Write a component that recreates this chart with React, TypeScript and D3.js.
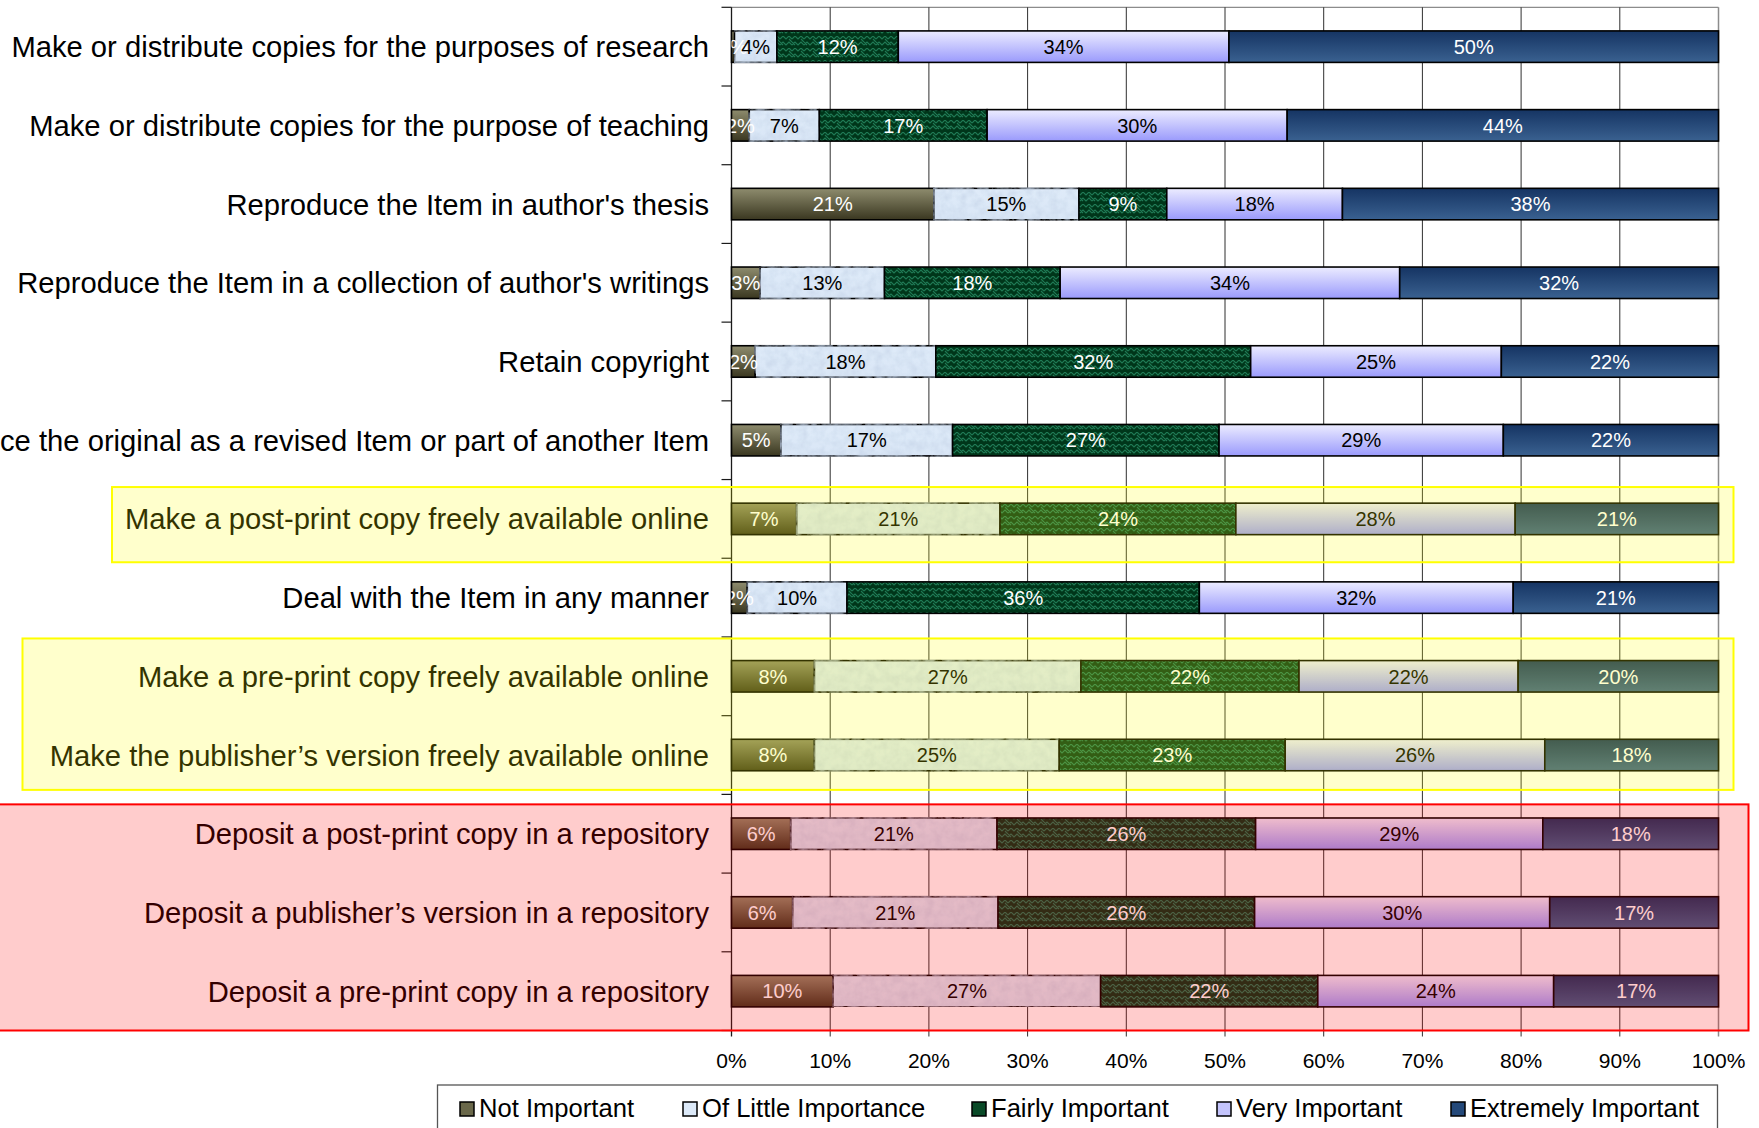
import React from "react";
import * as d3 from "d3";

// Survey: importance of author rights, stacked to 100% per item
const categories = [
  "Make or distribute copies for the purposes of research",
  "Make or distribute copies for the purpose of teaching",
  "Reproduce the Item in author's thesis",
  "Reproduce the Item in a collection of author's writings",
  "Retain copyright",
  "Reproduce the original as a revised Item or part of another Item",
  "Make a post-print copy freely available online",
  "Deal with the Item in any manner",
  "Make a pre-print copy freely available online",
  "Make the publisher\u2019s version freely available online",
  "Deposit a post-print copy in a repository",
  "Deposit a publisher\u2019s version in a repository",
  "Deposit a pre-print copy in a repository",
];

const seriesNames = [
  "Not Important",
  "Of Little Importance",
  "Fairly Important",
  "Very Important",
  "Extremely Important",
];

const notImportant = [0.3, 1.8, 20.5, 2.9, 2.4, 5.0, 6.6, 1.6, 8.4, 8.4, 6.0, 6.2, 10.3];
const ofLittleImportance = [4.3, 7.1, 14.7, 12.6, 18.3, 17.4, 20.6, 10.1, 27.0, 24.8, 20.9, 20.8, 27.1];
const fairlyImportant = [12.3, 17.0, 8.9, 17.8, 31.9, 27.0, 23.9, 35.7, 22.1, 22.9, 26.2, 26.0, 22.0];
const veryImportant = [33.5, 30.4, 17.8, 34.4, 25.4, 28.8, 28.3, 31.8, 22.2, 26.3, 29.1, 29.9, 23.9];
const extremelyImportant = [49.6, 43.7, 38.1, 32.3, 22.0, 21.8, 20.6, 20.8, 20.3, 17.6, 17.8, 17.1, 16.7];

const xTicks = [0, 10, 20, 30, 40, 50, 60, 70, 80, 90, 100];

// Highlight groups: [first row, last row]
const yellowGroups: [number, number][] = [[6, 6], [8, 9]];
const redGroups: [number, number][] = [[10, 12]];

const W = 1759;
const H = 1128;
const FONT = "'Liberation Sans', Arial, Helvetica, sans-serif";

const fills = [
  "url(#gNot)",
  "url(#gLittle)",
  "url(#pFairly)",
  "url(#gVery)",
  "url(#gExtreme)",
];
const labelColors = ["#ffffff", "#000000", "#ffffff", "#000000", "#ffffff"];
const legendFills = ["#6a684a", "#dce9f8", "#0a4a28", "#c4c4fc", "#24497a"];

export default function App() {
  const plotTop = 7.3;
  const plotBottom = 1030.5;
  const x = d3.scaleLinear().domain([0, 100]).range([731.5, 1718.5]);
  const y = d3
    .scaleBand<string>()
    .domain(categories)
    .range([plotTop, plotBottom])
    .paddingInner(0.6)
    .paddingOuter(0.3);
  const step = y.step();
  const bandTop = (i: number) => plotTop + i * step;

  const rows = categories.map((c, i) => ({
    cat: c,
    [seriesNames[0]]: notImportant[i],
    [seriesNames[1]]: ofLittleImportance[i],
    [seriesNames[2]]: fairlyImportant[i],
    [seriesNames[3]]: veryImportant[i],
    [seriesNames[4]]: extremelyImportant[i],
  }));
  const stacked = d3.stack<any>().keys(seriesNames)(rows);

  const legendX = [460, 683, 972, 1217, 1451];

  return (
    <svg
      width={W}
      height={H}
      style={{ position: "absolute", left: 0, top: 0, background: "#fff" }}
      fontFamily={FONT}
    >
      <defs>
        <linearGradient id="gNot" x1="0" y1="0" x2="0" y2="1">
          <stop offset="0" stopColor="#8e8c6e" />
          <stop offset="1" stopColor="#3a3720" />
        </linearGradient>
        <linearGradient id="gVery" x1="0" y1="0" x2="0" y2="1">
          <stop offset="0" stopColor="#ececff" />
          <stop offset="1" stopColor="#9a9afc" />
        </linearGradient>
        <linearGradient id="gExtreme" x1="0" y1="0" x2="0" y2="1">
          <stop offset="0" stopColor="#153463" />
          <stop offset="1" stopColor="#3a6190" />
        </linearGradient>
        <filter id="fPaper" x="0" y="0" width="1" height="1">
          <feTurbulence type="fractalNoise" baseFrequency="0.12" numOctaves="3" seed="4" result="noise" />
          <feColorMatrix
            in="noise"
            type="matrix"
            values="0 0 0 0 0.55  0 0 0 0 0.65  0 0 0 0 0.8  0 0 0 -1.1 0.75"
            result="spots"
          />
          <feComposite in="spots" in2="SourceGraphic" operator="in" result="spotsIn" />
          <feMerge>
            <feMergeNode in="SourceGraphic" />
            <feMergeNode in="spotsIn" />
          </feMerge>
        </filter>
        <linearGradient id="gLittle" x1="0" y1="0" x2="0" y2="1">
          <stop offset="0" stopColor="#dfebf9" />
          <stop offset="1" stopColor="#d9e6f6" />
        </linearGradient>
        <pattern id="pFairly" width="12" height="12" patternUnits="userSpaceOnUse">
          <rect width="12" height="12" fill="#00361a" />
          <path
            d="M0,3 L3,0 L6,3 L9,0 L12,3 M0,9 L3,6 L6,9 L9,6 L12,9 M0,6 L3,9 M9,3 L12,6"
            fill="none"
            stroke="#1f7a55"
            strokeWidth="1.1"
          />
        </pattern>
        <clipPath id="plotClip">
          <rect x={x(0)} y={plotTop} width={x(100) - x(0)} height={plotBottom - plotTop} />
        </clipPath>
      </defs>

      <rect width={W} height={H} fill="#ffffff" />

      {/* plot frame and vertical gridlines */}
      <line x1={x(0)} x2={x(100)} y1={plotTop} y2={plotTop} stroke="#8c8c8c" strokeWidth={1.2} />
      {xTicks.slice(1, -1).map((t) => (
        <line key={t} x1={x(t)} x2={x(t)} y1={plotTop} y2={plotBottom + 6} stroke="#2f2f2f" strokeWidth={1} />
      ))}
      <line x1={x(100)} x2={x(100)} y1={plotTop} y2={plotBottom + 6} stroke="#8c8c8c" strokeWidth={1.5} />
      <line x1={x(0)} x2={x(0)} y1={plotTop} y2={plotBottom + 6} stroke="#1a1a1a" strokeWidth={1.3} />

      {/* category tick marks */}
      {d3.range(categories.length + 1).map((i) => (
        <line key={i} x1={x(0) - 10} x2={x(0)} y1={bandTop(i)} y2={bandTop(i)} stroke="#1a1a1a" strokeWidth={1.2} />
      ))}

      {/* stacked bars */}
      {stacked.map((s, si) => (
        <g key={s.key} filter={si === 1 ? "url(#fPaper)" : undefined}>
          {s.map((d, i) => (
            <rect
              key={i}
              x={x(d[0])}
              y={y(categories[i])}
              width={x(d[1]) - x(d[0])}
              height={y.bandwidth()}
              fill={fills[si]}
              stroke="#000"
              strokeWidth={1.6}
            />
          ))}
        </g>
      ))}

      {/* value labels */}
      <g clipPath="url(#plotClip)" fontSize={20} textAnchor="middle">
        {stacked.map((s, si) =>
          s.map((d, i) => (
            <text
              key={s.key + i}
              x={(x(d[0]) + x(d[1])) / 2}
              y={(y(categories[i]) as number) + y.bandwidth() / 2}
              dy="0.36em"
              fill={labelColors[si]}
            >
              {Math.round(d[1] - d[0])}%
            </text>
          ))
        )}
      </g>

      {/* category labels */}
      <g fontSize={29.2} textAnchor="end" fill="#000">
        {categories.map((c) => (
          <text key={c} x={709} y={(y(c) as number) + y.bandwidth() / 2} dy="0.36em">
            {c}
          </text>
        ))}
      </g>

      {/* x axis tick labels */}
      <g fontSize={21} textAnchor="middle" fill="#000">
        {xTicks.map((t) => (
          <text key={t} x={x(t)} y={1068}>
            {t}%
          </text>
        ))}
      </g>

      {/* legend */}
      <rect x={437.5} y={1085} width={1280} height={70} fill="#fff" stroke="#555" strokeWidth={1.3} />
      {seriesNames.map((n, i) => (
        <g key={n}>
          <rect x={legendX[i]} y={1102} width={14} height={14} fill={legendFills[i]} stroke="#000" strokeWidth={1.5} />
          <text x={legendX[i] + 19} y={1117} fontSize={25.6} fill="#000">
            {n}
          </text>
        </g>
      ))}

      {/* highlighted groups */}
      {yellowGroups.map(([a, b], k) => {
        const x0 = k === 0 ? 112 : 22.5;
        const top = bandTop(a) + (k === 0 ? 7.5 : 1.5);
        const bottom = bandTop(b + 1) + (k === 0 ? 4 : -4.5);
        return (
          <rect
            key={"y" + k}
            x={x0}
            y={top}
            width={x(100) + 15 - x0}
            height={bottom - top}
            fill="rgba(255,255,0,0.2)"
            stroke="#ffff00"
            strokeWidth={2}
          />
        );
      })}
      {redGroups.map(([a, b], k) => {
        const top = bandTop(a) + 10;
        const bottom = bandTop(b + 1);
        return (
          <rect
            key={"r" + k}
            x={-5}
            y={top}
            width={x(100) + 30 + 5}
            height={bottom - top}
            fill="rgba(255,0,0,0.2)"
            stroke="#ff0000"
            strokeWidth={2}
          />
        );
      })}
    </svg>
  );
}
